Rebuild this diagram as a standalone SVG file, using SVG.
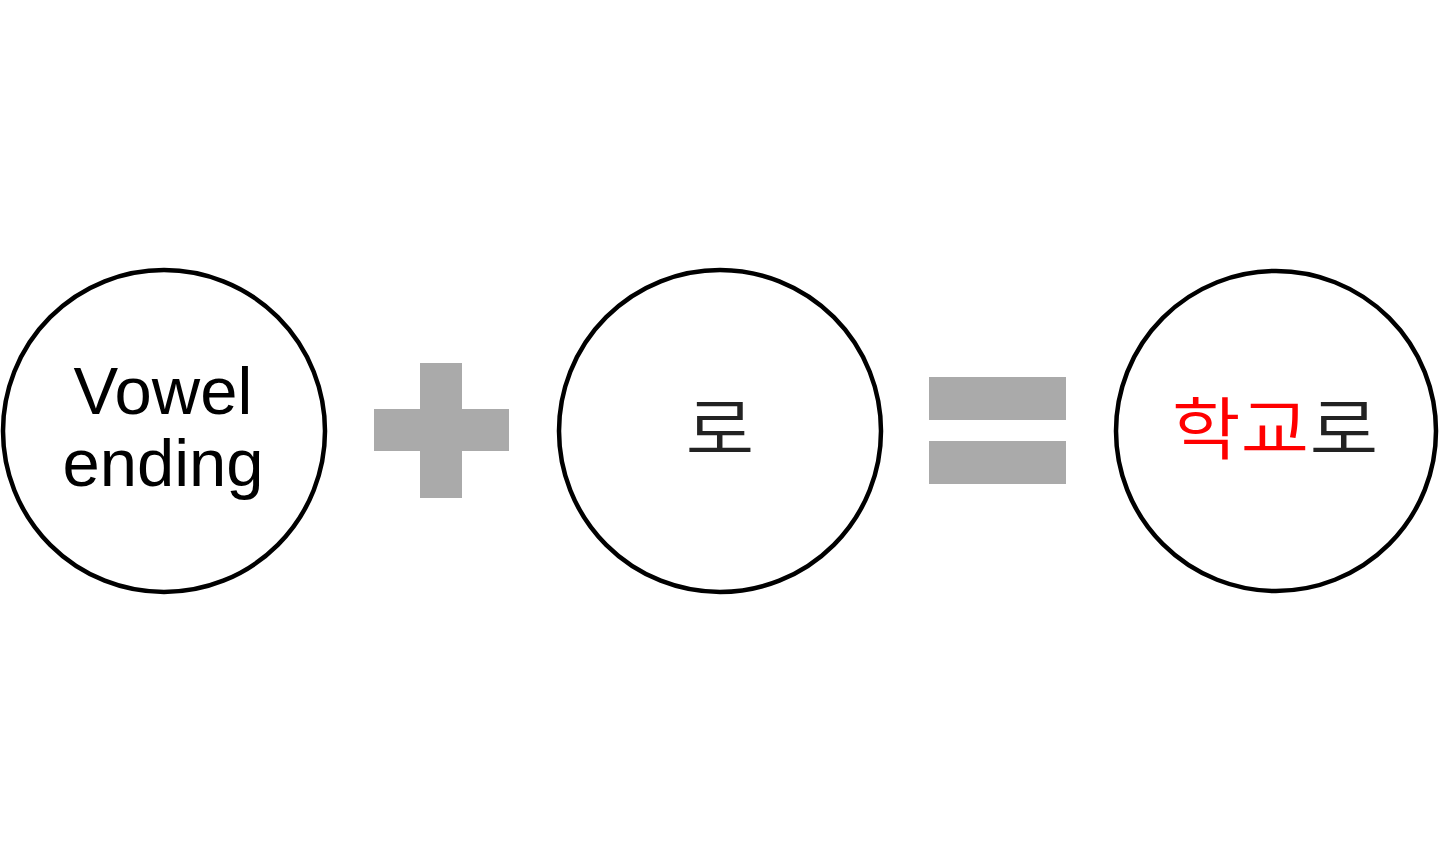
<svg xmlns="http://www.w3.org/2000/svg" width="1440" height="861" viewBox="0 0 1440 861">
<style>
.node circle{fill:#fff;stroke:#000;stroke-width:4.5}
.op{fill:#aaaaaa}
.lat{font-family:"Liberation Sans",Arial,sans-serif;font-size:67px;fill:#000;text-anchor:middle}
.kr{font-family:"Noto Sans CJK KR","Noto Sans",sans-serif;font-size:68px;font-weight:350;fill:#222;text-anchor:middle}
.red{fill:#ff0000}
</style>
<rect width="1440" height="861" fill="#fff"/>
<g id="node-vowel" class="node">
<circle cx="164" cy="431" r="161"/>
<text class="lat" x="163" y="414">Vowel</text>
<text class="lat" x="163" y="486">ending</text>
</g>
<g id="op-plus">
<rect class="op" x="374" y="409" width="135" height="42"/>
<rect class="op" x="420" y="363" width="42" height="135"/>
</g>
<g id="node-ro" class="node">
<circle cx="720" cy="431" r="161"/>
<text class="kr" x="0" y="454" transform="translate(720 0) scale(1.1 1)">로</text>
</g>
<g id="op-equals">
<rect class="op" x="929" y="377" width="137" height="43"/>
<rect class="op" x="929" y="441" width="137" height="43"/>
</g>
<g id="node-result" class="node">
<circle cx="1276" cy="431" r="160"/>
<text class="kr" x="0" y="454" transform="translate(1275 0) scale(1.1 1)"><tspan class="red">학교</tspan>로</text>
</g>
<g id="connectors"></g>
</svg>
